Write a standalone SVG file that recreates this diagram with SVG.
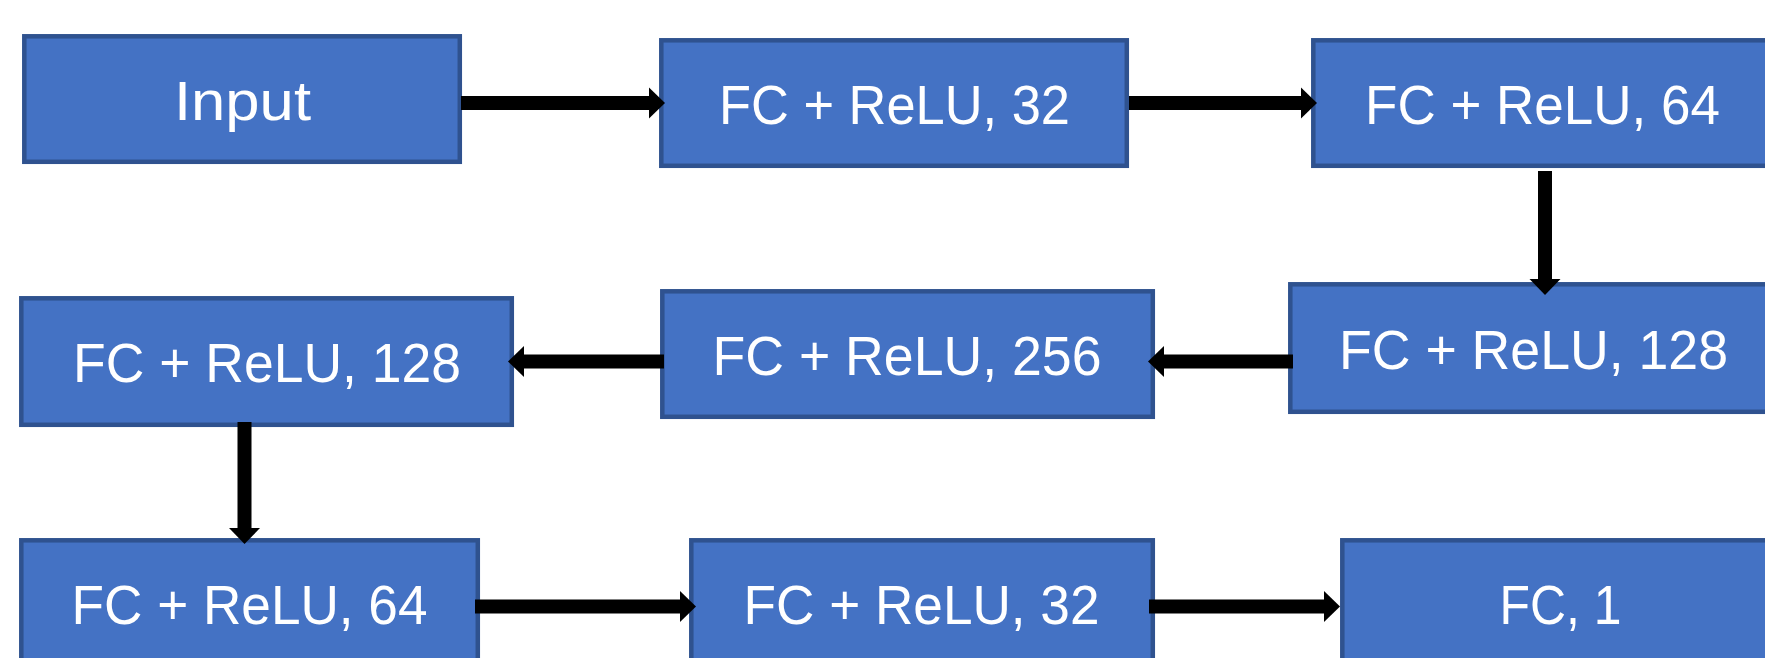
<svg xmlns="http://www.w3.org/2000/svg" width="1765" height="658" viewBox="0 0 1765 658">
<style>
.box{fill:#4472C4;stroke:#2F528F;stroke-width:4.5}
.lbl{fill:#FFFFFF;font-family:"Liberation Sans",Arial,sans-serif;font-size:56px;text-anchor:middle}
.con{stroke:#000000;stroke-width:14;fill:none}
</style>
<defs>
<marker id="ah" markerUnits="userSpaceOnUse" markerWidth="17" markerHeight="32" refX="0" refY="15.5" orient="auto" overflow="visible">
<path d="M0,0 L16,15.5 L0,31 Z" fill="#000000"/>
</marker>
</defs>
<rect width="1765" height="658" fill="#FFFFFF"/>
<g id="input"><rect class="box" x="24.3" y="36.3" width="435.5" height="125.5"/><text class="lbl" x="242.5" y="120" textLength="137" lengthAdjust="spacingAndGlyphs">Input</text></g>
<g id="fc32a"><rect class="box" x="661.3" y="40.3" width="465.5" height="125.5"/><text class="lbl" x="894.5" y="124" textLength="351" lengthAdjust="spacingAndGlyphs">FC + ReLU, 32</text></g>
<g id="fc64a"><rect class="box" x="1313.3" y="40.3" width="457.5" height="125.5"/><text class="lbl" x="1542.5" y="124" textLength="355" lengthAdjust="spacingAndGlyphs">FC + ReLU, 64</text></g>
<g id="fc128a"><rect class="box" x="1290.3" y="284.3" width="486.5" height="127.5"/><text class="lbl" x="1533.5" y="369" textLength="389" lengthAdjust="spacingAndGlyphs">FC + ReLU, 128</text></g>
<g id="fc256"><rect class="box" x="662.3" y="291.3" width="490.5" height="125.5"/><text class="lbl" x="907" y="375" textLength="389" lengthAdjust="spacingAndGlyphs">FC + ReLU, 256</text></g>
<g id="fc128b"><rect class="box" x="21.3" y="298.3" width="490.5" height="126.5"/><text class="lbl" x="267" y="382" textLength="388" lengthAdjust="spacingAndGlyphs">FC + ReLU, 128</text></g>
<g id="fc64b"><rect class="box" x="21.3" y="540.3" width="456.5" height="126.5"/><text class="lbl" x="249.5" y="624" textLength="356" lengthAdjust="spacingAndGlyphs">FC + ReLU, 64</text></g>
<g id="fc32b"><rect class="box" x="691.3" y="540.3" width="461.5" height="126.5"/><text class="lbl" x="921.5" y="624" textLength="356" lengthAdjust="spacingAndGlyphs">FC + ReLU, 32</text></g>
<g id="fc1"><rect class="box" x="1342.3" y="540.3" width="436.5" height="126.5"/><text class="lbl" x="1560.5" y="624" textLength="122" lengthAdjust="spacingAndGlyphs">FC, 1</text></g>
<g id="connectors">
<line class="con" x1="461" y1="103" x2="649" y2="103" marker-end="url(#ah)"/>
<line class="con" x1="1129" y1="103" x2="1301" y2="103" marker-end="url(#ah)"/>
<line class="con" x1="1545" y1="171" x2="1545" y2="279" marker-end="url(#ah)"/>
<line class="con" x1="1293" y1="361.5" x2="1164" y2="361.5" marker-end="url(#ah)"/>
<line class="con" x1="664" y1="361.5" x2="524" y2="361.5" marker-end="url(#ah)"/>
<line class="con" x1="244.5" y1="422" x2="244.5" y2="528" marker-end="url(#ah)"/>
<line class="con" x1="475" y1="606.5" x2="680" y2="606.5" marker-end="url(#ah)"/>
<line class="con" x1="1149" y1="606.5" x2="1324" y2="606.5" marker-end="url(#ah)"/>
</g>
</svg>
